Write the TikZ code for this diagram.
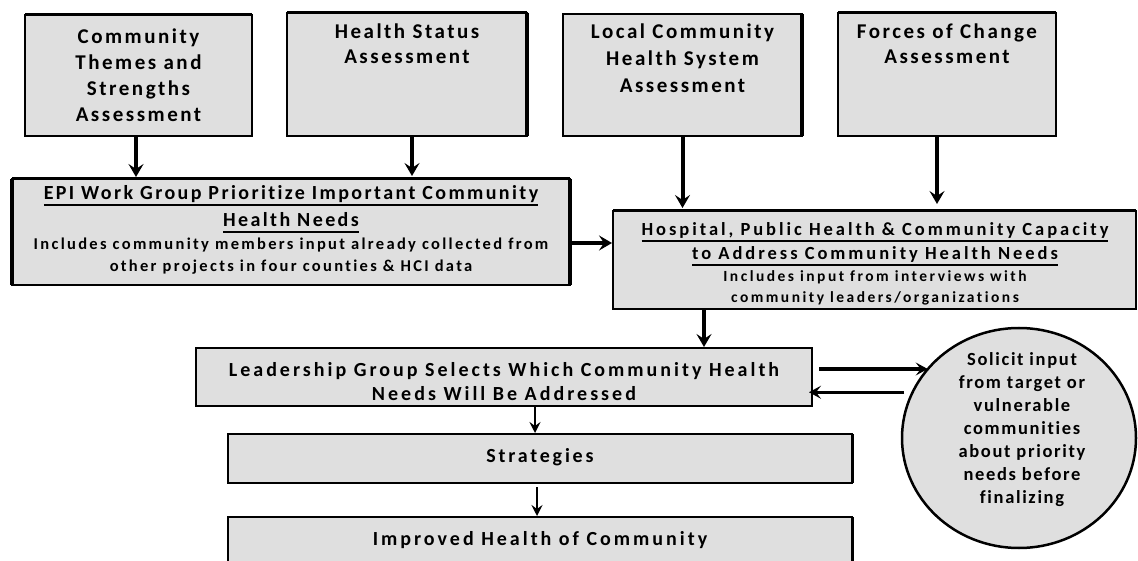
\documentclass[tikz,border=0pt]{standalone}
\usepackage{fontspec}
\setmainfont{Carlito}[LetterSpace=9, Ligatures=NoCommon]
\newfontfamily\lsA{Carlito}[LetterSpace=9, Ligatures=NoCommon]
\newfontfamily\lsB{Carlito}[LetterSpace=12, Ligatures=NoCommon]
\newfontfamily\lsC{Carlito}[LetterSpace=14, Ligatures=NoCommon]
\newfontfamily\lsE{Carlito}[LetterSpace=15, Ligatures=NoCommon]
\newfontfamily\lsD{Carlito}[LetterSpace=16, Ligatures=NoCommon]
\usetikzlibrary{arrows.meta,shapes.geometric,calc}
\definecolor{boxgray}{RGB}{223,223,223}
\newcommand\fs[2]{\fontsize{#1}{#2}\selectfont}
\newcommand\myul[1]{\setbox0\hbox{#1}\rlap{\rule[-7.2pt]{\wd0}{2.4pt}}\box0}
\begin{document}
\begin{tikzpicture}[x=1pt,y=-1pt,
 box/.style={draw, line width=2pt, fill=boxgray, anchor=north west, inner sep=0pt, outer sep=0pt},
 txt/.style={inner sep=0pt, align=center, anchor=north},
 arr/.style={line width=4pt, -{Stealth[length=13pt, width=15pt, inset=5pt]}},
 harr/.style={line width=3.5pt, -{Stealth[length=12pt, width=13pt, inset=5pt]}},
 tarr/.style={line width=2pt, -{Stealth[length=11pt, width=11pt, inset=4pt]}},
 thk/.style={line width=#1}
]
\useasboundingbox (0,0) rectangle (1138,561);
\fill[white] (0,0) rectangle (1138,561);
\clip (0,0) rectangle (1138,561);

% boxes
\node[box, minimum width=227, minimum height=121] (b1) at (25,15) {};
\node[box, minimum width=240, minimum height=123] (b2) at (287,13) {};
\node[box, minimum width=239, minimum height=122] (b3) at (563,14) {};
\node[box, minimum width=218, minimum height=123] (b4) at (838,13) {};
\node[box, minimum width=558, minimum height=106] (epi) at (12,179) {};
\node[box, minimum width=523, minimum height=98] (hosp) at (613,211) {};
\node[box, minimum width=616, minimum height=58] (lead) at (196,348) {};
\node[box, minimum width=624, minimum height=49] (strat) at (228,434) {};
\node[box, minimum width=624, minimum height=60] (imp) at (228,517) {};
\node[ellipse, draw, line width=2.5pt, fill=boxgray, inner sep=0pt, minimum width=234, minimum height=220] (circ) at (1019,438) {};

% heavier sides
\draw[thk=3pt] (b1.north west) -- (b1.north east);
\draw[thk=3pt] (b2.north west) -- (b2.north east);
\draw[thk=4pt] (b2.north east) -- (b2.south east);
\draw[thk=4pt] (b3.north east) -- (b3.south east);
\draw[thk=3pt] (b4.north west) -- (b4.north east);
\draw[thk=3pt] (epi.north west) -- (epi.north east);
\draw[thk=4pt] (epi.north west) -- (epi.south west);
\draw[thk=4pt] (epi.north east) -- (epi.south east);
\draw[thk=3pt] (hosp.north west) -- (hosp.north east);
\draw[thk=2.6pt] (strat.north west) -- (strat.north east);
\draw[thk=3pt] (strat.north east) -- (strat.south east);
\draw[thk=2.6pt] (imp.north west) -- (imp.north east);
\draw[thk=3pt] (imp.north east) -- (imp.south east);

% texts
\node[txt, font=\lsB\bfseries\fs{21}{26}] (t1) at (138.5,24.8) {\strut Community\\Themes and\\Strengths\\Assessment};
\node[txt, font=\lsB\bfseries\fs{21}{25}] (t2) at (407,20.5) {\strut Health Status\\Assessment};
\node[txt, font=\lsB\bfseries\fs{21}{27}] (t3) at (682.5,19.1) {\strut Local Community\\Health System\\Assessment};
\node[txt, font=\lsB\bfseries\fs{21}{25}] (t4) at (947,20.5) {\strut Forces of Change\\Assessment};
\node[txt, font=\lsB\bfseries\fs{20}{27}] (te1) at (291,180.1) {\strut\myul{EPI Work Group Prioritize Important Community}\\\myul{Health Needs}};
\node[txt, font=\lsC\bfseries\fs{16.5}{22}] (te2) at (291,233.6) {\strut Includes community members input already collected from\\other projects in four counties \& HCI data};
\node[txt, font=\lsD\bfseries\fs{18.5}{24}] (th1) at (875,218.2) {\strut\myul{Hospital, Public Health \& Community Capacity}\\\myul{to Address Community Health Needs}};
\node[txt, font=\lsD\bfseries\fs{15.5}{21}] (th2) at (875,266.3) {\strut Includes input from interviews with\\community leaders/organizations};
\node[txt, font=\lsE\bfseries\fs{20}{24}] (tl) at (504,359.2) {\strut Leadership Group Selects Which Community Health\\Needs Will Be Addressed};
\node[txt, font=\lsC\bfseries\fs{20}{20}] (ts) at (540,448) {\strut Strategies};
\node[txt, font=\lsE\bfseries\fs{20}{20}] (ti) at (540,531) {\strut Improved Health of Community};
\node[txt, font=\lsA\bfseries\fs{18.5}{23}] (tc) at (1022,348.9) {\strut Solicit input\\from target or\\vulnerable\\communities\\about priority\\needs before\\finalizing};

% connectors
\draw[arr, shorten >=2pt] ([xshift=-2.5]b1.south) -- ([xshift=-2.5]b1.south |- epi.north);
\draw[arr, shorten >=3pt] ([xshift=5]b2.south) -- ([xshift=5]b2.south |- epi.north);
\draw[arr, shorten >=3pt] (b3.south) -- (b3.south |- hosp.north);
\draw[arr, shorten >=7pt] ([xshift=-10]b4.south) -- ([xshift=-10]b4.south |- hosp.north);
\draw[arr, shorten >=1pt] ([yshift=-11]epi.east) -- ([yshift=-11]epi.east -| hosp.west);
\draw[arr, shorten >=1pt] ([xshift=-170.5]hosp.south) -- ([xshift=-170.5]hosp.south |- lead.north);
\draw[harr, shorten >=6pt] ([xshift=7,yshift=8]lead.east) -- ([xshift=7,yshift=8]lead.east -| circ.143);
\draw[harr, shorten >=4pt] ([xshift=-7]circ.157) -- ([xshift=-7]circ.157 -| lead.east);
\draw[tarr, shorten >=1pt] ([xshift=-5]strat.north |- lead.south) -- ([xshift=-5]strat.north);
\draw[tarr, shorten >=1pt] ([xshift=-3,yshift=-4]strat.south) -- ([xshift=-3]imp.north);
\end{tikzpicture}
\end{document}
